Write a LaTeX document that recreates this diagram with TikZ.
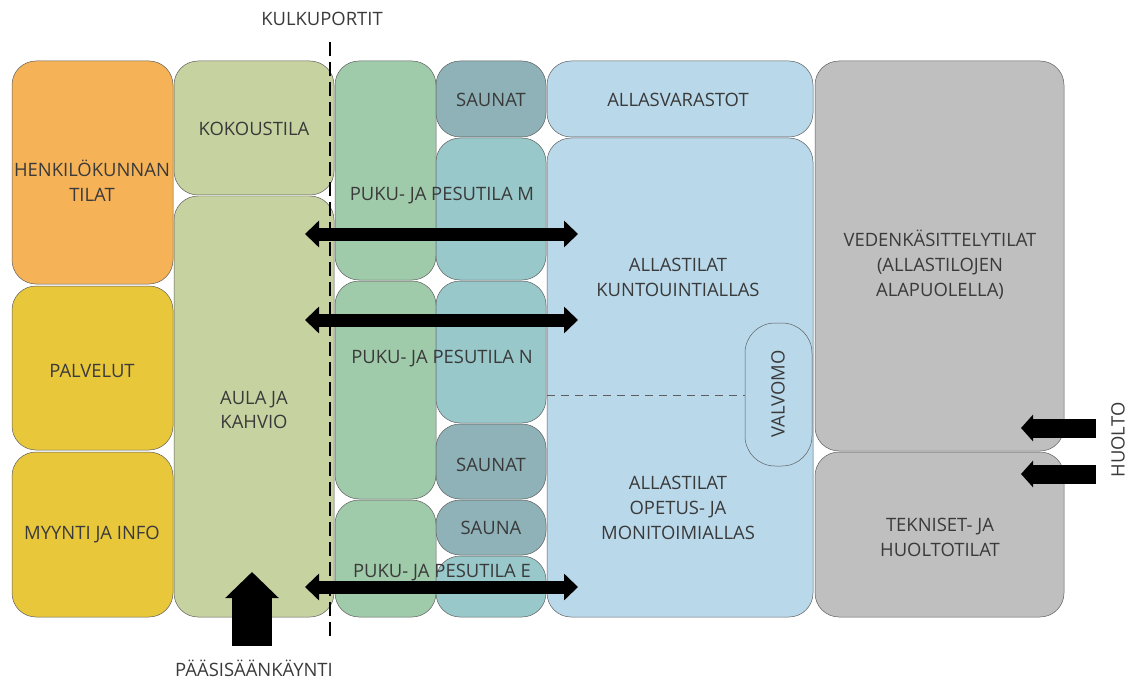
\documentclass[tikz,border=0pt]{standalone}
\usepackage{fontspec}
\setmainfont{Open Sans}
\usetikzlibrary{arrows.meta}
\definecolor{edge}{HTML}{5E5E5E}
\definecolor{txt}{HTML}{3A3A3A}
\definecolor{corange}{HTML}{F6B257}
\definecolor{cyellow}{HTML}{E9C73B}
\definecolor{clgreen}{HTML}{C6D3A1}
\definecolor{cgreen}{HTML}{A0CBAA}
\definecolor{cteal}{HTML}{98C8CA}
\definecolor{cdteal}{HTML}{8EB2B7}
\definecolor{cblue}{HTML}{B9D9EB}
\definecolor{cgray}{HTML}{BFBFBF}
\begin{document}
\begin{tikzpicture}[x=1bp,y=-1bp,
  room/.style={draw=edge, line width=0.5bp, rounded corners=24bp},
  lbl/.style={text=txt, font=\fontsize{18.5}{25}\selectfont, align=center, inner sep=0pt},
  dblarrow/.style={line width=13bp, {Triangle[length=14bp,width=26bp]}-{Triangle[length=14bp,width=26bp]}},
  huoltoarrow/.style={line width=19bp, -{Triangle[length=12bp,width=26bp]}},
  entryarrow/.style={line width=40bp, -{Triangle[length=26bp,width=52bp]}},
  gate/.style={line width=1.4bp, dash pattern=on 14bp off 6bp},
  divider/.style={line width=0.6bp, draw=edge, dash pattern=on 8bp off 6bp}]
\useasboundingbox (0,0) rectangle (1131,681);
% column 1
\path[room, fill=corange] (12,61) rectangle (173,284);
\path[room, fill=cyellow] (12,286) rectangle (173,450);
\path[room, fill=cyellow] (12,452) rectangle (173,617);
% column 2
\path[room, fill=clgreen] (174,61) rectangle (334,195);
\path[room, fill=clgreen] (174,196) rectangle (334,617);
% column 3
\path[room, fill=cgreen] (335,61) rectangle (436,280);
\path[room, fill=cgreen] (335,281) rectangle (436,499);
\path[room, fill=cgreen] (335,500) rectangle (436,617);
% column 4
\path[room, fill=cdteal] (436,61) rectangle (546,137);
\path[room, fill=cteal] (436,138) rectangle (546,280);
\path[room, fill=cteal] (436,281) rectangle (546,423);
\path[room, fill=cdteal] (436,424) rectangle (546,499);
\path[room, fill=cdteal] (436,500) rectangle (546,555);
\path[room, fill=cteal] (436,556) rectangle (546,617);
% column 5
\path[room, fill=cblue] (547,61) rectangle (813,137);
\path[room, fill=cblue] (547,138) rectangle (813,617);
\path[room, rounded corners=30bp, fill=cblue] (745,323) rectangle (812,466);
\coordinate (divL) at (547,395);
\coordinate (divR) at (745,395);
\draw[divider] (divL) -- (divR);
% column 6
\path[room, fill=cgray] (815,61) rectangle (1064,451);
\path[room, fill=cgray] (815,452) rectangle (1064,617);
% labels
\node[lbl] (henk) at (92,181) {HENKILÖKUNNAN\\TILAT};
\node[lbl] (palv) at (92,371) {PALVELUT};
\node[lbl] (myynti) at (92,535) {MYYNTI JA INFO};
\node[lbl] (koko) at (254,129) {KOKOUSTILA};
\node[lbl] (aula) at (254,410) {AULA JA\\KAHVIO};
\node[lbl] (pukuM) at (442,196) {PUKU- JA PESUTILA M};
\node[lbl] (pukuN) at (442,359) {PUKU- JA PESUTILA N};
\node[lbl] (pukuE) at (442,573) {PUKU- JA PESUTILA E};
\node[lbl] (sauna1) at (491,100) {SAUNAT};
\node[lbl] (sauna2) at (491,465) {SAUNAT};
\node[lbl] (sauna3) at (491,528) {SAUNA};
\node[lbl] (varasto) at (678,100) {ALLASVARASTOT};
\node[lbl] (kunto) at (678,277) {ALLASTILAT\\KUNTOUINTIALLAS};
\node[lbl] (opetus) at (678,508) {ALLASTILAT\\OPETUS- JA\\MONITOIMIALLAS};
\node[lbl, rotate=90] (valvomo) at (778,394) {VALVOMO};
\node[lbl] (veden) at (940,265) {VEDENKÄSITTELYTILAT\\(ALLASTILOJEN\\ALAPUOLELLA)};
\node[lbl] (tekn) at (940,537) {TEKNISET- JA\\HUOLTOTILAT};
\node[lbl] (kulku) at (322,19) {KULKUPORTIT};
\node[lbl] (paas) at (254,668) {PÄÄSISÄÄNKÄYNTI};
\node[lbl, rotate=90] (huolto) at (1118,440) {HUOLTO};
% gate line
\coordinate (gateT) at (330,42);
\coordinate (gateB) at (330,636);
\draw[gate] (gateT) -- (gateB);
% double arrows
\coordinate (a1L) at (305,234); \coordinate (a1R) at (578,234);
\coordinate (a2L) at (305,320); \coordinate (a2R) at (578,320);
\coordinate (a3L) at (305,587); \coordinate (a3R) at (578,587);
\draw[dblarrow] (a1L) -- (a1R);
\draw[dblarrow] (a2L) -- (a2R);
\draw[dblarrow] (a3L) -- (a3R);
% entrance arrow
\coordinate (entB) at (252,646); \coordinate (entT) at (252,572);
\draw[entryarrow] (entB) -- (entT);
% huolto arrows
\coordinate (h1R) at (1096,428); \coordinate (h1L) at (1021,428);
\coordinate (h2R) at (1096,474); \coordinate (h2L) at (1021,474);
\draw[huoltoarrow] (h1R) -- (h1L);
\draw[huoltoarrow] (h2R) -- (h2L);
\end{tikzpicture}
\end{document}
